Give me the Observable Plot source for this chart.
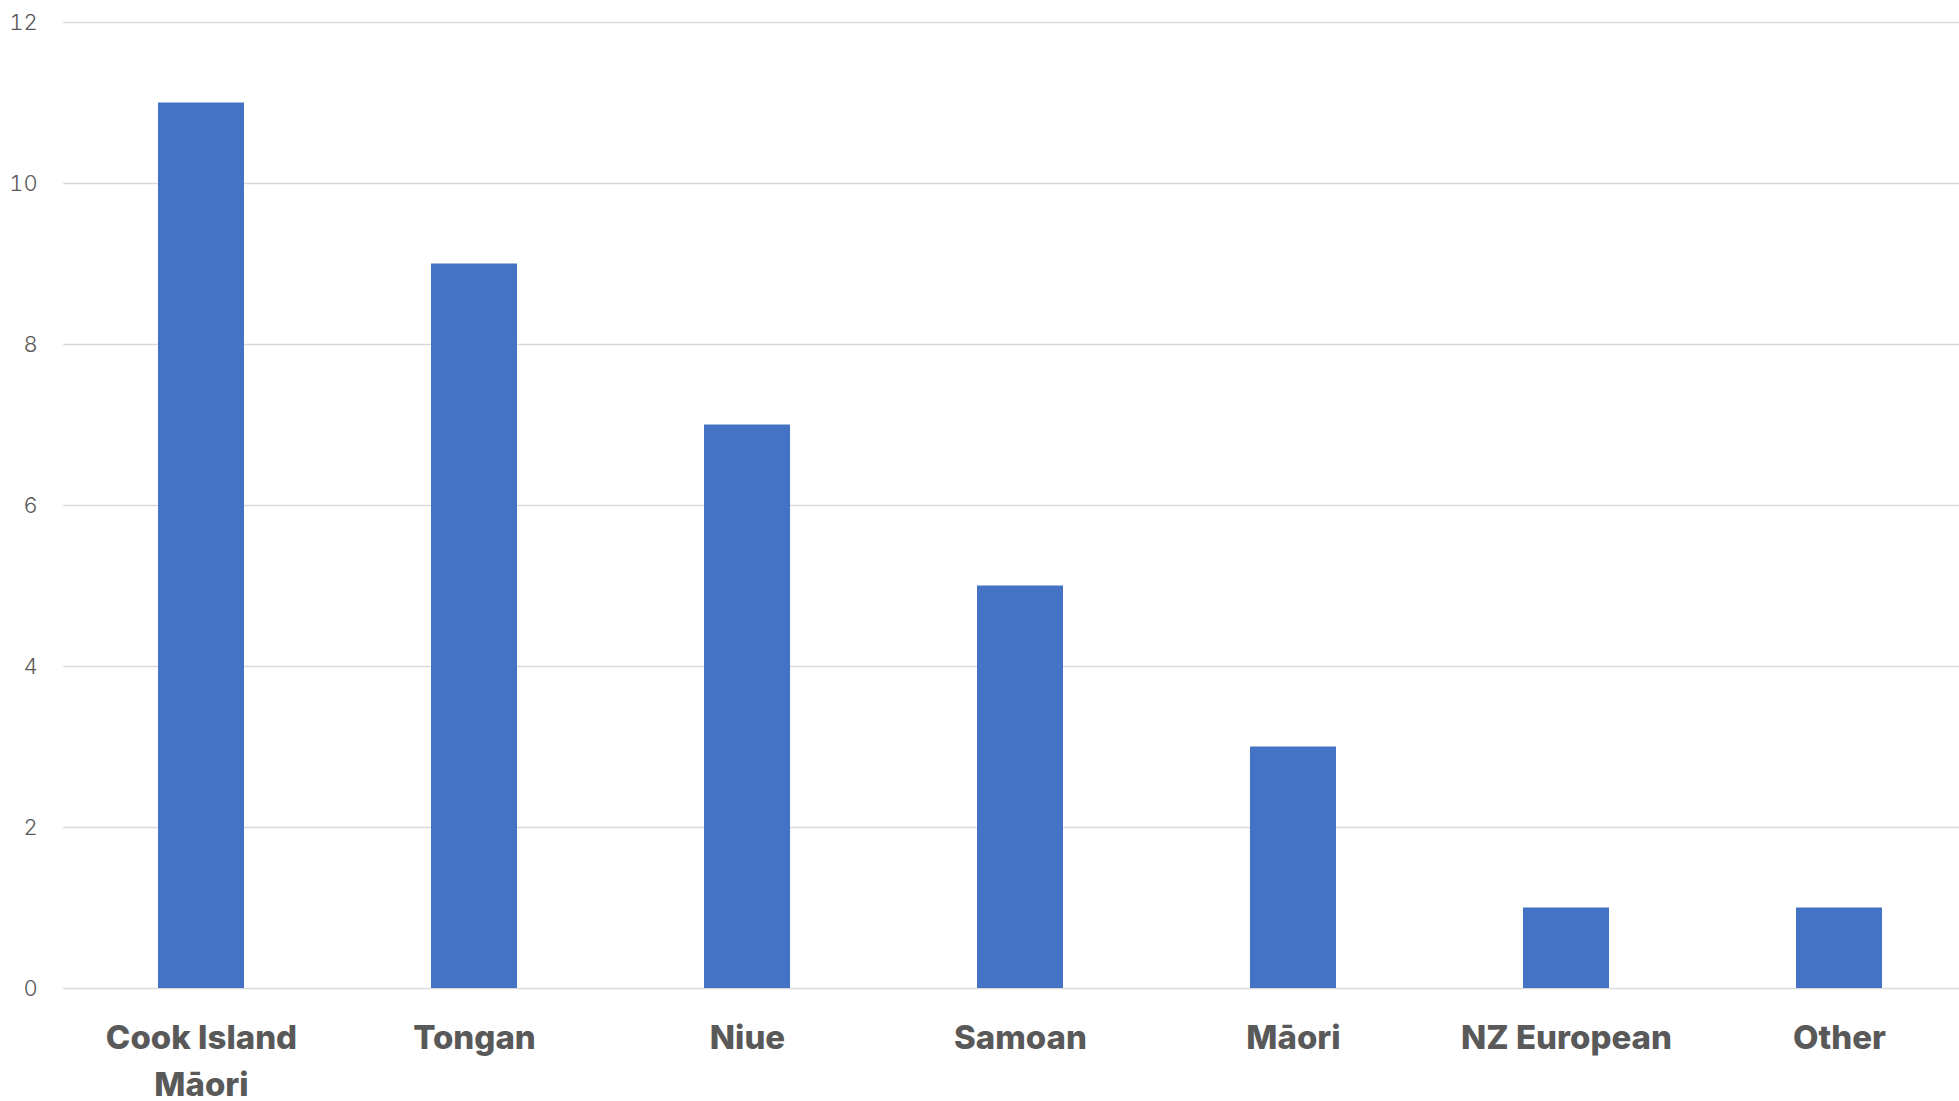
<!DOCTYPE html>
<html>
<head>
<meta charset="utf-8">
<script src="https://cdn.jsdelivr.net/npm/d3@7"></script>
<script src="https://cdn.jsdelivr.net/npm/@observablehq/plot@0.6"></script>
<style>
  html, body { margin: 0; padding: 0; background: #ffffff; overflow: hidden; }
  #chart svg { display: block; }
</style>
</head>
<body>
<div id="chart"></div>
<script>
const categories = ["Cook Island Māori", "Tongan", "Niue", "Samoan", "Māori", "NZ European", "Other"];
const tickLabels = ["Cook Island\nMāori", "Tongan", "Niue", "Samoan", "Māori", "NZ European", "Other"];
const values = [11, 9, 7, 5, 3, 1, 1];
const yTicks = [0, 2, 4, 6, 8, 10, 12];

const data = categories.map((c, i) => ({category: c, value: values[i]}));
const labelOf = new Map(categories.map((c, i) => [c, tickLabels[i]]));

const W = 1959, H = 1101;
const chart = Plot.plot({
  width: W,
  height: H,
  marginLeft: 63.3,
  marginRight: 0,
  marginTop: 22,
  marginBottom: 113,
  style: {background: "#ffffff", color: "#595959", fontFamily: "Inter, 'DejaVu Sans', sans-serif", overflow: "hidden"},
  x: {domain: categories, range: [63.3, 1977.3], paddingInner: 0.685, paddingOuter: 0.3425},
  y: {domain: [0, 12]},
  marks: [
    Plot.ruleY(yTicks, {stroke: "#d9d9d9", strokeWidth: 1.7}),
    Plot.barY(data, {x: "category", y: "value", fill: "#4472C4"}),
    Plot.axisY({ticks: yTicks, tickSize: 0, tickPadding: 26, fontSize: 22, fontWeight: 300, label: null, tickFormat: d => String(d)}),
    Plot.axisX({tickSize: 0, tickPadding: 27, fontSize: 33, fontWeight: 800, lineHeight: 1.42, label: null, tickFormat: d => labelOf.get(d)})
  ]
});
document.getElementById("chart").appendChild(chart);
</script>
</body>
</html>
